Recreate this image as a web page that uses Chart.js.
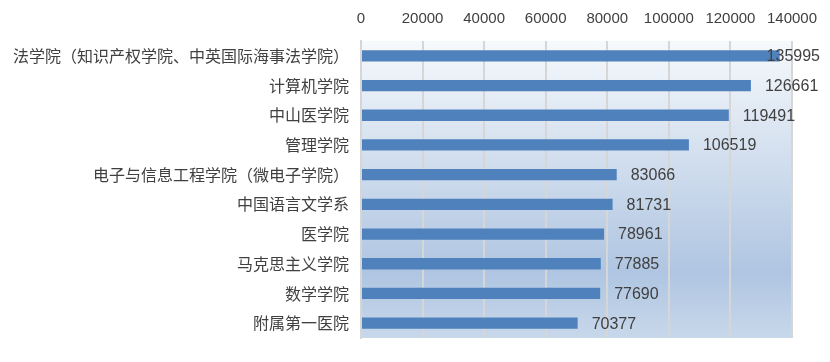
<!DOCTYPE html>
<html>
<head>
<meta charset="utf-8">
<script src="https://cdn.jsdelivr.net/npm/chart.js@4/dist/chart.umd.min.js"></script>
<style>
  html, body { margin: 0; padding: 0; background: #fff; }
  #wrap { width: 830px; height: 362px; position: relative; }
</style>
</head>
<body>
<div id="wrap"><canvas id="bar-xueyuan"></canvas></div>
<script>
var kategori = ['法学院（知识产权学院、中英国际海事法学院）', '计算机学院', '中山医学院', '管理学院', '电子与信息工程学院（微电子学院）', '中国语言文学系', '医学院', '马克思主义学院', '数学学院', '附属第一医院'];
var nilai = [135995, 126661, 119491, 106519, 83066, 81731, 78961, 77885, 77690, 70377];
var sumbu_x = [0, 20000, 40000, 60000, 80000, 100000, 120000, 140000];

// gradient background of the plot area
const bgPlot = {
    id: 'bgPlot',
    beforeDraw: (chart) => {
        let ca = chart.chartArea;
        let ctx = chart.ctx;
        let g = ctx.createLinearGradient(0, ca.top, 0, ca.bottom);
        g.addColorStop(0, '#f6f9fc');
        g.addColorStop(0.78, '#afc5e1');
        g.addColorStop(1, '#c8d8eb');
        ctx.save();
        ctx.fillStyle = g;
        ctx.fillRect(ca.left, ca.top, ca.right - ca.left, ca.bottom - ca.top);
        ctx.restore();
    }
};

// value labels right of each bar, kept inside the canvas
const labelNilai = {
    id: 'labelNilai',
    afterDatasetsDraw: (chart) => {
        let ctx = chart.ctx;
        ctx.save();
        ctx.font = '16px "Liberation Sans", sans-serif';
        ctx.fillStyle = '#404040';
        ctx.textBaseline = 'middle';
        chart.getDatasetMeta(0).data.forEach((bar, i) => {
            let txt = String(nilai[i]);
            let w = ctx.measureText(txt).width;
            let x = Math.min(bar.x + 14, chart.width - 10 - w);
            ctx.fillText(txt, x, bar.y + 1);
        });
        ctx.restore();
    }
};

new Chart(document.getElementById('bar-xueyuan'), {
    type: 'bar',
    data: {
        labels: kategori,
        datasets: [{
            data: nilai,
            backgroundColor: '#4f81bd',
            borderWidth: 0,
            barPercentage: 0.38,
            categoryPercentage: 1
        }]
    },
    options: {
        indexAxis: 'y',
        responsive: true,
        maintainAspectRatio: false,
        animation: false,
        layout: { padding: { left: 0, right: 38, top: 0, bottom: 24 } },
        plugins: {
            legend: { display: false },
            tooltip: { enabled: false }
        },
        scales: {
            x: {
                position: 'top',
                min: 0,
                max: 140000,
                afterBuildTicks: (axis) => { axis.ticks = sumbu_x.map(v => ({ value: v })); },
                afterFit: (axis) => { axis.height = 41; },
                grid: { color: '#d6d6d6', lineWidth: 2, drawTicks: false },
                border: { display: false },
                ticks: {
                    padding: 13,
                    maxRotation: 0,
                    color: '#404040',
                    font: { family: '"Liberation Sans", sans-serif', size: 15 },
                    callback: (v) => String(v)
                }
            },
            y: {
                afterFit: (axis) => { axis.width = 361; },
                grid: { display: false, drawTicks: false },
                border: { display: true, color: '#d6d6d6', width: 2 },
                ticks: {
                    padding: 12,
                    color: '#404040',
                    font: { family: '"Noto Sans CJK SC", sans-serif', size: 16 }
                }
            }
        }
    },
    plugins: [bgPlot, labelNilai]
});
</script>
</body>
</html>
